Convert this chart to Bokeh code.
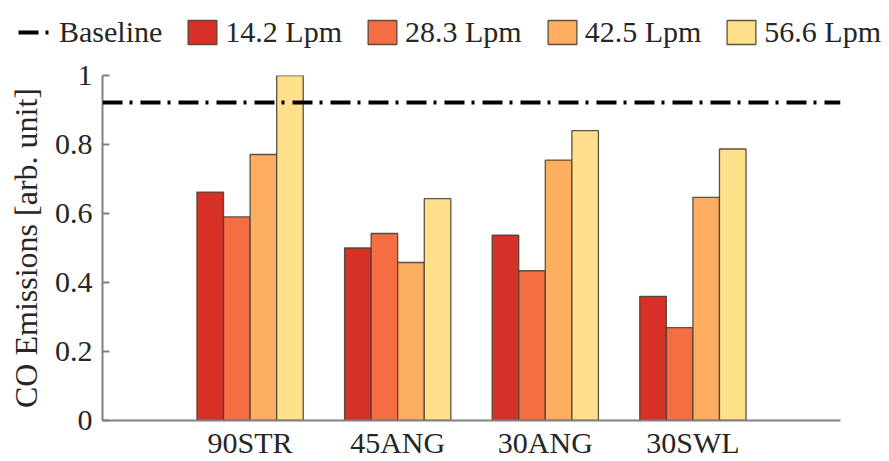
from bokeh.plotting import figure
from bokeh.models import (FactorRange, Range1d, Span, Legend, LegendItem,
                          FixedTicker, NumeralTickFormatter)
from bokeh.transform import dodge
from bokeh.embed import file_html
from bokeh.resources import INLINE

# Injector configurations and air flow rates
configs = ["90STR", "45ANG", "30ANG", "30SWL"]
flow_labels = ["14.2 Lpm", "28.3 Lpm", "42.5 Lpm", "56.6 Lpm"]

# Normalised CO emissions per configuration, one list per flow rate
co_14_2 = [0.662, 0.500, 0.537, 0.360]
co_28_3 = [0.590, 0.542, 0.434, 0.269]
co_42_5 = [0.771, 0.458, 0.755, 0.647]
co_56_6 = [1.000, 0.643, 0.840, 0.787]
baseline_co = 0.922

y_ticks = [0, 0.2, 0.4, 0.6, 0.8, 1.0]

palette = ["#D73027", "#F46D43", "#FDAE61", "#FEE08B"]
FONT = "Liberation Serif"
TEXT = "#262626"
AXIS = "#808080"
BAR_LINE = dict(line_color="#4a4035", line_alpha=0.9, line_width=1.3)
DASH = "20 7 3 8"

LEG_H = 58
data = dict(configs=configs, f1=co_14_2, f2=co_28_3, f3=co_42_5, f4=co_56_6)

# ---- main bar chart ----
p = figure(
    width=889, height=461 - LEG_H,
    x_range=FactorRange(factors=configs, range_padding=0.5,
                        range_padding_units="absolute"),
    y_range=Range1d(0, 1),
    output_backend="svg", toolbar_location=None,
    min_border_left=102, min_border_right=49,
    min_border_top=75 - LEG_H, min_border_bottom=39,
)
p.outline_line_color = None
p.grid.visible = False

bar_w = 0.18
offsets = [-0.27, -0.09, 0.09, 0.27]
for col, off, color in zip(["f1", "f2", "f3", "f4"], offsets, palette):
    p.vbar(x=dodge("configs", off, range=p.x_range), top=col, width=bar_w,
           source=data, fill_color=color, **BAR_LINE)

# Baseline reference level
p.add_layout(Span(location=baseline_co, dimension="width", line_color="black",
                  line_width=4, line_dash=DASH))

# Axes
p.yaxis.ticker = FixedTicker(ticks=y_ticks)
p.yaxis.formatter = NumeralTickFormatter(format="0.[0]")
p.yaxis.axis_label = "CO Emissions [arb. unit]"
p.yaxis.axis_label_text_font = FONT
p.yaxis.axis_label_text_font_style = "normal"
p.yaxis.axis_label_text_font_size = "32px"
p.yaxis.axis_label_text_color = TEXT
p.yaxis.axis_label_standoff = 8
p.yaxis.major_tick_in = 7
p.yaxis.major_tick_out = 0
p.yaxis.minor_tick_in = 0
p.yaxis.minor_tick_out = 0
p.yaxis.major_label_standoff = 10

p.xaxis.major_tick_in = 0
p.xaxis.major_tick_out = 0
p.xaxis.major_label_standoff = 5

for ax in (p.xaxis, p.yaxis):
    ax.axis_line_color = AXIS
    ax.axis_line_width = 2
    ax.major_tick_line_color = AXIS
    ax.major_tick_line_width = 2
    ax.major_label_text_font = FONT
    ax.major_label_text_font_size = "30px"
    ax.major_label_text_color = TEXT

# ---- key strip across the top ----
# The strip's y range sits well away from zero, so the key proxies below
# (zero-size marks at the origin) stay out of view; only their swatches show.
lg = figure(width=889, height=LEG_H, x_range=Range1d(0, 1), y_range=Range1d(10, 11),
            output_backend="svg", toolbar_location=None,
            x_axis_location=None, y_axis_location=None, min_border=0)
lg.outline_line_color = None
lg.grid.visible = False

base_r = lg.line(x=[0, 0], y=[0, 0], line_color="black", line_width=4,
                 line_dash=DASH)
swatches = [lg.vbar(x=[0], top=[0], width=0, fill_color=c, **BAR_LINE)
            for c in palette]

items = [LegendItem(label="Baseline", renderers=[base_r])]
items += [LegendItem(label=lab, renderers=[r])
          for lab, r in zip(flow_labels, swatches)]
legend = Legend(items=items, location=(18, 9), orientation="horizontal",
                padding=0, margin=0, spacing=22, glyph_width=36, glyph_height=30,
                label_standoff=5, border_line_color=None, background_fill_alpha=0,
                label_text_font=FONT, label_text_font_size="30px",
                label_text_color=TEXT)
lg.add_layout(legend)

# Two separate roots stacked on the page: key strip, then the chart
open("out.html", "w").write(file_html([lg, p], INLINE))
